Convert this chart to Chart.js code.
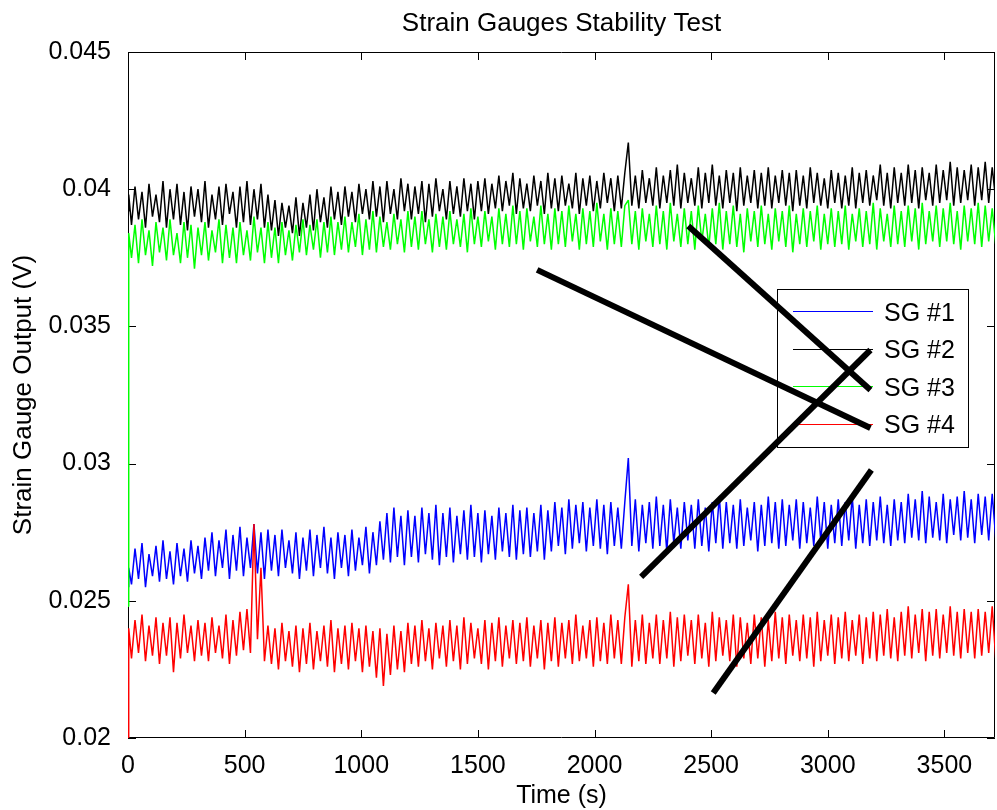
<!DOCTYPE html>
<html>
<head>
<meta charset="utf-8">
<title>Strain Gauges Stability Test</title>
<script src="https://cdn.jsdelivr.net/npm/chart.js@4.4.1/dist/chart.umd.min.js"></script>
<style>
  html, body { margin: 0; padding: 0; background: #fff; }
  #wrap { width: 997px; height: 810px; position: relative; }
</style>
</head>
<body>
<div id="wrap"><canvas id="sgChart"></canvas></div>
<script>
// sample times (s): start-up sample, then one reading every 15 s
const time = [0, 3].concat(Array.from({ length: 248 }, (_, i) => 15 + i * 15))

// SG #1 (blue)
const sg1 = [
  0.0255, 0.0262,
  0.0256, 0.0269, 0.0258, 0.0271, 0.0255, 0.0267, 0.0259, 0.0270, 0.0257, 0.0272,
  0.0258, 0.0268, 0.0256, 0.0271, 0.0259, 0.0269, 0.0257, 0.0272, 0.0260, 0.0270,
  0.0258, 0.0273, 0.0261, 0.0275, 0.0259, 0.0272, 0.0262, 0.0276, 0.0258, 0.0274,
  0.0261, 0.0277, 0.0259, 0.0273, 0.0262, 0.0278, 0.0260, 0.0275, 0.0258, 0.0276,
  0.0261, 0.0274, 0.0259, 0.0276, 0.0262, 0.0272, 0.0260, 0.0275, 0.0258, 0.0273,
  0.0261, 0.0276, 0.0259, 0.0274, 0.0262, 0.0277, 0.0260, 0.0273, 0.0258, 0.0275,
  0.0262, 0.0274, 0.0259, 0.0276, 0.0261, 0.0273, 0.0263, 0.0277, 0.0260, 0.0275,
  0.0263, 0.0279, 0.0265, 0.0282, 0.0264, 0.0284, 0.0266, 0.0281, 0.0263, 0.0283,
  0.0266, 0.0281, 0.0264, 0.0284, 0.0267, 0.0282, 0.0265, 0.0285, 0.0263, 0.0282,
  0.0266, 0.0284, 0.0264, 0.0281, 0.0267, 0.0283, 0.0265, 0.0285, 0.0266, 0.0282,
  0.0264, 0.0283, 0.0267, 0.0281, 0.0265, 0.0284, 0.0268, 0.0282, 0.0266, 0.0285,
  0.0265, 0.0283, 0.0267, 0.0284, 0.0266, 0.0282, 0.0268, 0.0285, 0.0265, 0.0283,
  0.0268, 0.0286, 0.0270, 0.0284, 0.0267, 0.0287, 0.0269, 0.0285, 0.0271, 0.0286,
  0.0268, 0.0284, 0.0270, 0.0287, 0.0269, 0.0285, 0.0267, 0.0286, 0.0270, 0.0284,
  0.0269, 0.0286, 0.0302, 0.0270, 0.0287, 0.0268, 0.0285, 0.0271, 0.0286, 0.0269,
  0.0288, 0.0270, 0.0285, 0.0268, 0.0287, 0.0271, 0.0284, 0.0269, 0.0286, 0.0272,
  0.0285, 0.0269, 0.0287, 0.0270, 0.0284, 0.0268, 0.0286, 0.0271, 0.0288, 0.0269,
  0.0286, 0.0271, 0.0285, 0.0269, 0.0287, 0.0270, 0.0284, 0.0272, 0.0286, 0.0268,
  0.0285, 0.0270, 0.0288, 0.0271, 0.0286, 0.0269, 0.0287, 0.0270, 0.0285, 0.0272,
  0.0287, 0.0269, 0.0286, 0.0271, 0.0284, 0.0270, 0.0288, 0.0272, 0.0286, 0.0269,
  0.0285, 0.0271, 0.0287, 0.0270, 0.0286, 0.0272, 0.0288, 0.0269, 0.0285, 0.0271,
  0.0287, 0.0270, 0.0286, 0.0272, 0.0288, 0.0271, 0.0285, 0.0270, 0.0287, 0.0272,
  0.0286, 0.0271, 0.0289, 0.0273, 0.0287, 0.0272, 0.0290, 0.0271, 0.0288, 0.0273,
  0.0286, 0.0272, 0.0289, 0.0271, 0.0287, 0.0274, 0.0288, 0.0272, 0.0290, 0.0273,
  0.0287, 0.0271, 0.0289, 0.0274, 0.0288, 0.0272, 0.0289, 0.0273
]

// SG #2 (black)
const sg2 = [
  0.0392, 0.0398,
  0.0387, 0.0401, 0.0389, 0.0399, 0.0386, 0.0402, 0.0390, 0.0398, 0.0388, 0.0403,
  0.0386, 0.0400, 0.0389, 0.0402, 0.0387, 0.0399, 0.0385, 0.0401, 0.0390, 0.0400,
  0.0388, 0.0403, 0.0386, 0.0398, 0.0389, 0.0401, 0.0387, 0.0402, 0.0391, 0.0399,
  0.0386, 0.0401, 0.0388, 0.0403, 0.0387, 0.0400, 0.0389, 0.0402, 0.0386, 0.0398,
  0.0385, 0.0396, 0.0383, 0.0395, 0.0386, 0.0394, 0.0384, 0.0397, 0.0383, 0.0395,
  0.0386, 0.0398, 0.0385, 0.0400, 0.0388, 0.0397, 0.0386, 0.0401, 0.0389, 0.0399,
  0.0387, 0.0401, 0.0390, 0.0399, 0.0388, 0.0402, 0.0391, 0.0400, 0.0389, 0.0403,
  0.0390, 0.0401, 0.0388, 0.0403, 0.0391, 0.0400, 0.0389, 0.0404, 0.0392, 0.0402,
  0.0389, 0.0401, 0.0391, 0.0403, 0.0388, 0.0402, 0.0390, 0.0404, 0.0392, 0.0400,
  0.0389, 0.0403, 0.0391, 0.0401, 0.0390, 0.0404, 0.0392, 0.0402, 0.0389, 0.0403,
  0.0392, 0.0404, 0.0391, 0.0402, 0.0393, 0.0405, 0.0392, 0.0403, 0.0394, 0.0406,
  0.0391, 0.0404, 0.0393, 0.0402, 0.0392, 0.0405, 0.0394, 0.0403, 0.0391, 0.0406,
  0.0393, 0.0404, 0.0392, 0.0405, 0.0394, 0.0402, 0.0393, 0.0406, 0.0391, 0.0404,
  0.0394, 0.0405, 0.0392, 0.0403, 0.0393, 0.0406, 0.0395, 0.0404, 0.0392, 0.0405,
  0.0393, 0.0406, 0.0417, 0.0394, 0.0405, 0.0393, 0.0407, 0.0395, 0.0404, 0.0394,
  0.0408, 0.0393, 0.0405, 0.0395, 0.0407, 0.0394, 0.0409, 0.0393, 0.0406, 0.0395,
  0.0404, 0.0394, 0.0408, 0.0393, 0.0406, 0.0395, 0.0409, 0.0394, 0.0405, 0.0393,
  0.0407, 0.0395, 0.0406, 0.0392, 0.0408, 0.0394, 0.0405, 0.0395, 0.0407, 0.0393,
  0.0406, 0.0394, 0.0408, 0.0393, 0.0405, 0.0395, 0.0407, 0.0394, 0.0406, 0.0392,
  0.0407, 0.0394, 0.0405, 0.0393, 0.0408, 0.0395, 0.0406, 0.0394, 0.0404, 0.0393,
  0.0407, 0.0395, 0.0406, 0.0393, 0.0405, 0.0394, 0.0408, 0.0393, 0.0406, 0.0395,
  0.0407, 0.0394, 0.0405, 0.0396, 0.0409, 0.0394, 0.0406, 0.0393, 0.0408, 0.0395,
  0.0406, 0.0394, 0.0409, 0.0395, 0.0407, 0.0393, 0.0408, 0.0396, 0.0406, 0.0394,
  0.0409, 0.0395, 0.0407, 0.0396, 0.0410, 0.0394, 0.0408, 0.0395, 0.0407, 0.0396,
  0.0409, 0.0394, 0.0408, 0.0396, 0.0410, 0.0395, 0.0408, 0.0396
]

// SG #3 (green)
const sg3 = [
  0.0248, 0.0384,
  0.0375, 0.0387, 0.0373, 0.0389, 0.0376, 0.0385, 0.0372, 0.0388, 0.0377, 0.0386,
  0.0374, 0.0389, 0.0376, 0.0384, 0.0373, 0.0388, 0.0375, 0.0387, 0.0371, 0.0386,
  0.0376, 0.0388, 0.0374, 0.0385, 0.0377, 0.0389, 0.0373, 0.0387, 0.0375, 0.0386,
  0.0373, 0.0388, 0.0376, 0.0385, 0.0374, 0.0390, 0.0377, 0.0386, 0.0373, 0.0388,
  0.0375, 0.0386, 0.0373, 0.0388, 0.0376, 0.0385, 0.0374, 0.0387, 0.0377, 0.0389,
  0.0376, 0.0387, 0.0378, 0.0389, 0.0375, 0.0388, 0.0377, 0.0390, 0.0376, 0.0388,
  0.0378, 0.0390, 0.0377, 0.0388, 0.0379, 0.0391, 0.0376, 0.0389, 0.0378, 0.0392,
  0.0377, 0.0390, 0.0379, 0.0388, 0.0378, 0.0391, 0.0380, 0.0389, 0.0377, 0.0392,
  0.0379, 0.0390, 0.0378, 0.0392, 0.0380, 0.0389, 0.0377, 0.0391, 0.0379, 0.0390,
  0.0378, 0.0392, 0.0380, 0.0389, 0.0379, 0.0391, 0.0377, 0.0393, 0.0380, 0.0390,
  0.0379, 0.0392, 0.0381, 0.0390, 0.0378, 0.0393, 0.0380, 0.0391, 0.0379, 0.0394,
  0.0380, 0.0392, 0.0378, 0.0393, 0.0381, 0.0390, 0.0379, 0.0394, 0.0380, 0.0391,
  0.0378, 0.0393, 0.0380, 0.0392, 0.0379, 0.0394, 0.0381, 0.0391, 0.0378, 0.0393,
  0.0380, 0.0392, 0.0379, 0.0395, 0.0381, 0.0391, 0.0378, 0.0393, 0.0380, 0.0392,
  0.0379, 0.0394, 0.0396, 0.0380, 0.0392, 0.0378, 0.0393, 0.0381, 0.0391, 0.0379,
  0.0394, 0.0380, 0.0392, 0.0378, 0.0395, 0.0381, 0.0391, 0.0379, 0.0393, 0.0380,
  0.0392, 0.0378, 0.0394, 0.0381, 0.0391, 0.0379, 0.0393, 0.0380, 0.0395, 0.0378,
  0.0392, 0.0380, 0.0394, 0.0379, 0.0391, 0.0377, 0.0393, 0.0381, 0.0392, 0.0379,
  0.0394, 0.0380, 0.0391, 0.0378, 0.0393, 0.0381, 0.0392, 0.0379, 0.0394, 0.0377,
  0.0391, 0.0380, 0.0393, 0.0379, 0.0392, 0.0381, 0.0394, 0.0378, 0.0391, 0.0380,
  0.0393, 0.0379, 0.0392, 0.0380, 0.0394, 0.0378, 0.0391, 0.0381, 0.0393, 0.0379,
  0.0392, 0.0380, 0.0395, 0.0378, 0.0393, 0.0381, 0.0391, 0.0379, 0.0394, 0.0380,
  0.0392, 0.0379, 0.0394, 0.0381, 0.0393, 0.0378, 0.0395, 0.0380, 0.0392, 0.0381,
  0.0394, 0.0379, 0.0393, 0.0381, 0.0395, 0.0380, 0.0392, 0.0378, 0.0394, 0.0381,
  0.0393, 0.0380, 0.0395, 0.0379, 0.0394, 0.0381, 0.0393, 0.0380
]

// SG #4 (red)
const sg4 = [
  0.0195, 0.0240,
  0.0229, 0.0243, 0.0231, 0.0245, 0.0228, 0.0241, 0.0230, 0.0244, 0.0227, 0.0242,
  0.0230, 0.0244, 0.0224, 0.0242, 0.0229, 0.0245, 0.0231, 0.0241, 0.0228, 0.0243,
  0.0230, 0.0242, 0.0228, 0.0244, 0.0231, 0.0241, 0.0229, 0.0245, 0.0227, 0.0243,
  0.0230, 0.0246, 0.0232, 0.0247, 0.0231, 0.0278, 0.0236, 0.0262, 0.0228, 0.0241,
  0.0227, 0.0240, 0.0225, 0.0242, 0.0228, 0.0239, 0.0226, 0.0241, 0.0224, 0.0240,
  0.0227, 0.0242, 0.0225, 0.0239, 0.0228, 0.0241, 0.0226, 0.0243, 0.0224, 0.0240,
  0.0227, 0.0241, 0.0225, 0.0242, 0.0228, 0.0240, 0.0224, 0.0241, 0.0226, 0.0239,
  0.0222, 0.0240, 0.0219, 0.0238, 0.0223, 0.0241, 0.0225, 0.0239, 0.0224, 0.0242,
  0.0227, 0.0241, 0.0226, 0.0243, 0.0228, 0.0240, 0.0225, 0.0242, 0.0229, 0.0241,
  0.0226, 0.0243, 0.0228, 0.0241, 0.0225, 0.0244, 0.0227, 0.0242, 0.0229, 0.0240,
  0.0227, 0.0243, 0.0225, 0.0242, 0.0228, 0.0244, 0.0226, 0.0241, 0.0229, 0.0243,
  0.0227, 0.0242, 0.0228, 0.0244, 0.0226, 0.0241, 0.0229, 0.0243, 0.0225, 0.0242,
  0.0228, 0.0244, 0.0226, 0.0242, 0.0229, 0.0243, 0.0227, 0.0245, 0.0228, 0.0241,
  0.0229, 0.0243, 0.0226, 0.0244, 0.0228, 0.0242, 0.0227, 0.0245, 0.0229, 0.0243,
  0.0227, 0.0244, 0.0256, 0.0226, 0.0243, 0.0228, 0.0245, 0.0227, 0.0242, 0.0229,
  0.0245, 0.0227, 0.0243, 0.0229, 0.0246, 0.0226, 0.0244, 0.0228, 0.0245, 0.0230,
  0.0243, 0.0227, 0.0245, 0.0229, 0.0242, 0.0226, 0.0246, 0.0228, 0.0244, 0.0230,
  0.0243, 0.0228, 0.0245, 0.0226, 0.0244, 0.0229, 0.0242, 0.0227, 0.0245, 0.0229,
  0.0244, 0.0226, 0.0243, 0.0228, 0.0246, 0.0229, 0.0244, 0.0227, 0.0245, 0.0230,
  0.0243, 0.0228, 0.0245, 0.0229, 0.0244, 0.0226, 0.0246, 0.0228, 0.0243, 0.0230,
  0.0245, 0.0227, 0.0244, 0.0229, 0.0246, 0.0228, 0.0243, 0.0230, 0.0245, 0.0227,
  0.0244, 0.0229, 0.0246, 0.0228, 0.0245, 0.0230, 0.0247, 0.0229, 0.0244, 0.0228,
  0.0246, 0.0230, 0.0248, 0.0229, 0.0245, 0.0231, 0.0247, 0.0228, 0.0246, 0.0230,
  0.0247, 0.0229, 0.0245, 0.0231, 0.0248, 0.0230, 0.0246, 0.0229, 0.0247, 0.0231,
  0.0246, 0.0229, 0.0247, 0.0230, 0.0246, 0.0231, 0.0248, 0.0229
]

// thick black pointer lines drawn over the plot, [time, volts] end points
const pointerA = [[1754, 0.03706], [3183, 0.03130]]
const pointerB = [[2402, 0.03866], [3183, 0.03268]]
const pointerC = [[2200, 0.02587], [3183, 0.03414]]
const pointerD = [[2509, 0.02164], [3187, 0.02977]]

const seriesLabels = ['SG #1', 'SG #2', 'SG #3', 'SG #4']
const xTicks = [0, 500, 1000, 1500, 2000, 2500, 3000, 3500]
const yTicks = [0.02, 0.025, 0.03, 0.035, 0.04, 0.045]

const FONT = '"Liberation Sans", Arial, sans-serif'

function toPoints(values) {
  return values.map((v, i) => ({ x: time[i], y: v }))
}

function pointer(ends) {
  return {
    data: ends.map(([x, y]) => ({ x, y })),
    borderColor: '#000',
    borderWidth: 6,
    pointRadius: 0,
    order: 0
  }
}

function series(label, values, color, order) {
  return {
    label,
    data: toPoints(values),
    borderColor: color,
    borderWidth: 1.5,
    borderJoinStyle: 'bevel',
    pointRadius: 0,
    order
  }
}

// box, inward ticks and the legend, all beneath the lines
const matlabAxes = {
  id: 'matlabAxes',
  beforeDatasetsDraw(chart) {
    const { ctx, chartArea: a, scales } = chart
    ctx.save()
    ctx.strokeStyle = '#000'
    ctx.lineWidth = 1
    ctx.beginPath()
    ctx.rect(a.left + 0.5, a.top + 0.5, a.right - a.left - 1, a.bottom - a.top - 1)
    scales.x.ticks.forEach((t) => {
      const px = Math.round(scales.x.getPixelForValue(t.value)) + 0.5
      ctx.moveTo(px, a.bottom); ctx.lineTo(px, a.bottom - 8)
      ctx.moveTo(px, a.top); ctx.lineTo(px, a.top + 8)
    })
    scales.y.ticks.forEach((t) => {
      const py = Math.round(scales.y.getPixelForValue(t.value)) + 0.5
      ctx.moveTo(a.left, py); ctx.lineTo(a.left + 8, py)
      ctx.moveTo(a.right, py); ctx.lineTo(a.right - 8, py)
    })
    ctx.stroke()

    // legend
    const lx = 777.5, ly = 289.5, lw = 191, lh = 158
    ctx.fillStyle = '#fff'
    ctx.fillRect(lx, ly, lw, lh)
    ctx.strokeRect(lx, ly, lw, lh)
    ctx.font = '25px ' + FONT
    ctx.textBaseline = 'middle'
    ctx.textAlign = 'left'
    chart.data.datasets.slice(0, 4).forEach((ds, i) => {
      const y = 311 + i * 37.5
      ctx.strokeStyle = ds.borderColor
      ctx.lineWidth = 1
      ctx.beginPath()
      ctx.moveTo(793, Math.round(y) + 0.5)
      ctx.lineTo(873, Math.round(y) + 0.5)
      ctx.stroke()
      ctx.fillStyle = '#000'
      ctx.fillText(ds.label, 884, y + 3)
    })
    ctx.restore()
  },
  afterDraw(chart) {
    const { ctx, chartArea: a } = chart
    const cx = (a.left + a.right) / 2
    ctx.save()
    ctx.fillStyle = '#000'
    ctx.textAlign = 'center'
    ctx.textBaseline = 'middle'
    ctx.font = '26px ' + FONT
    ctx.fillText('Strain Gauges Stability Test', cx, 24)
    ctx.font = '25px ' + FONT
    ctx.fillText('Time (s)', cx, 796)
    ctx.translate(24, (a.top + a.bottom) / 2)
    ctx.rotate(-Math.PI / 2)
    ctx.font = '26px ' + FONT
    ctx.fillText('Strain Gauge Output (V)', 0, 0)
    ctx.restore()
  }
}

new Chart(document.getElementById('sgChart'), {
  type: 'line',
  data: {
    datasets: [
      series(seriesLabels[0], sg1, '#0000ff', 4),
      series(seriesLabels[1], sg2, '#000000', 3),
      series(seriesLabels[2], sg3, '#00ff00', 2),
      series(seriesLabels[3], sg4, '#ff0000', 1),
      pointer(pointerA),
      pointer(pointerB),
      pointer(pointerC),
      pointer(pointerD)
    ]
  },
  options: {
    responsive: true,
    maintainAspectRatio: false,
    animation: false,
    events: [],
    layout: { padding: { top: 52, right: 2, bottom: 0, left: 0 } },
    plugins: {
      legend: { display: false },
      title: { display: false },
      tooltip: { enabled: false }
    },
    scales: {
      x: {
        type: 'linear',
        min: 0,
        max: 3717,
        grid: { display: false },
        border: { display: false },
        afterBuildTicks: (scale) => { scale.ticks = xTicks.map((v) => ({ value: v })) },
        afterFit: (scale) => { scale.height = 72 },
        ticks: {
          color: '#000',
          font: { family: FONT, size: 25 },
          padding: 5,
          maxRotation: 0,
          autoSkip: false,
          callback: (v) => String(v)
        }
      },
      y: {
        type: 'linear',
        min: 0.02,
        max: 0.045,
        grid: { display: false },
        border: { display: false },
        afterBuildTicks: (scale) => { scale.ticks = yTicks.map((v) => ({ value: v })) },
        afterFit: (scale) => { scale.width = 128 },
        ticks: {
          color: '#000',
          font: { family: FONT, size: 25 },
          padding: 9,
          autoSkip: false,
          callback: (v) => String(v)
        }
      }
    }
  },
  plugins: [matlabAxes]
})
</script>
</body>
</html>
